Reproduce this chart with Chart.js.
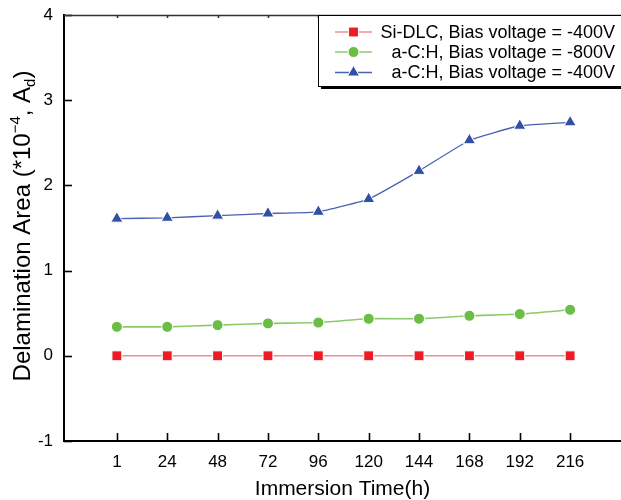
<!DOCTYPE html>
<html>
<head>
<meta charset="utf-8">
<script src="https://cdn.jsdelivr.net/npm/chart.js@4/dist/chart.umd.min.js"></script>
<style>
  html, body { margin: 0; padding: 0; background: #fff; }
  #wrap { width: 621px; height: 500px; }
</style>
</head>
<body>
<div id="wrap"><canvas id="chart"></canvas></div>
<script>
const hours = ['1', '24', '48', '72', '96', '120', '144', '168', '192', '216'];
const siDlc400 = [0, 0, 0, 0, 0, 0, 0, 0, 0, 0];
const aCH800 = [0.34, 0.34, 0.36, 0.38, 0.39, 0.435, 0.435, 0.47, 0.49, 0.54];
const aCH400 = [1.61, 1.62, 1.645, 1.67, 1.69, 1.84, 2.17, 2.53, 2.70, 2.74];
const seriesNames = [
  'Si-DLC, Bias voltage = -400V',
  'a-C:H, Bias voltage = -800V',
  'a-C:H, Bias voltage = -400V'
];
const yTicks = [-1, 0, 1, 2, 3, 4];

const FONT = "'Liberation Sans', Arial, sans-serif";

function toPoints(values) {
  return values.map((v, i) => ({ x: i + 1, y: v }));
}

// inward tick marks, top frame line, y title with sup/sub, boxed legend
const framePlugin = {
  id: 'frame',
  afterDraw(chart) {
    const { ctx, chartArea: area, scales: { x, y } } = chart;
    ctx.save();

    ctx.strokeStyle = '#000';
    ctx.lineWidth = 1.6;
    x.ticks.forEach((t) => {
      const px = Math.round(x.getPixelForValue(t.value)) + 0.5;
      ctx.beginPath();
      ctx.moveTo(px, area.bottom);
      ctx.lineTo(px, area.bottom - 8);
      ctx.stroke();
    });
    y.ticks.forEach((t) => {
      const py = Math.round(y.getPixelForValue(t.value)) + 0.5;
      ctx.beginPath();
      ctx.moveTo(area.left, py);
      ctx.lineTo(area.left + 8, py);
      ctx.stroke();
    });

    // top axis line with short ticks
    ctx.strokeStyle = '#333';
    ctx.lineWidth = 1.6;
    ctx.beginPath();
    ctx.moveTo(area.left, area.top + 0.5);
    ctx.lineTo(area.right, area.top + 0.5);
    ctx.stroke();
    x.ticks.forEach((t) => {
      const px = Math.round(x.getPixelForValue(t.value)) + 0.5;
      ctx.beginPath();
      ctx.moveTo(px, area.top);
      ctx.lineTo(px, area.top + 3);
      ctx.stroke();
    });

    // y axis title
    ctx.fillStyle = '#000';
    ctx.textBaseline = 'alphabetic';
    ctx.textAlign = 'left';
    const big = `24px ${FONT}`;
    const small = `15px ${FONT}`;
    const parts = [
      { t: 'Delamination Area (*10', f: big, dy: 0 },
      { t: '\u22124', f: small, dy: -10 },
      { t: ', A', f: big, dy: 0 },
      { t: 'd', f: small, dy: 5 },
      { t: ')', f: big, dy: 0 }
    ];
    let total = 0;
    parts.forEach((p) => { ctx.font = p.f; p.w = ctx.measureText(p.t).width; total += p.w; });
    ctx.translate(29.5, (area.top + area.bottom) / 2 - 2);
    ctx.rotate(-Math.PI / 2);
    let cx = -total / 2;
    parts.forEach((p) => {
      ctx.font = p.f;
      ctx.fillText(p.t, cx, p.dy);
      cx += p.w;
    });
    ctx.setTransform(1, 0, 0, 1, 0, 0);

    // legend box
    const bx = 318, by = area.top, bw = 340, bh = 71;
    ctx.fillStyle = '#000';
    ctx.fillRect(bx + 3, by + 3, bw, bh);
    ctx.fillStyle = '#fff';
    ctx.fillRect(bx, by, bw, bh);
    ctx.strokeStyle = '#000';
    ctx.lineWidth = 1;
    ctx.strokeRect(bx + 0.5, by + 0.5, bw, bh);

    const rowY = [by + 17, by + 37, by + 57.5];
    chart.data.datasets.forEach((ds, i) => {
      const ry = rowY[i];
      ctx.strokeStyle = ds.borderColor;
      ctx.lineWidth = ds.borderWidth;
      ctx.beginPath();
      ctx.moveTo(335, ry);
      ctx.lineTo(372, ry);
      ctx.stroke();
      ctx.fillStyle = ds.pointBackgroundColor;
      ctx.strokeStyle = '#fff';
      ctx.lineWidth = 1;
      Chart.helpers.drawPoint(ctx, {
        pointStyle: ds.pointStyle,
        radius: ds.pointRadius,
        rotation: 0,
        borderWidth: 1
      }, 353.5, ry);
      ctx.fillStyle = '#000';
      ctx.font = `18px ${FONT}`;
      ctx.textAlign = 'right';
      ctx.textBaseline = 'middle';
      ctx.fillText(ds.label, 615, ry + 1);
    });

    ctx.restore();
  }
};

new Chart(document.getElementById('chart'), {
  type: 'line',
  data: {
    datasets: [
      {
        label: seriesNames[0],
        data: toPoints(siDlc400),
        borderColor: '#f28d8d',
        borderWidth: 1.6,
        pointStyle: 'rect',
        pointRadius: 7,
        pointBackgroundColor: '#ed1c24',
        pointBorderColor: '#fff',
        pointBorderWidth: 1,
        tension: 0
      },
      {
        label: seriesNames[1],
        data: toPoints(aCH800),
        borderColor: '#8ccb6b',
        borderWidth: 1.6,
        pointStyle: 'circle',
        pointRadius: 5.5,
        pointBackgroundColor: '#6abd45',
        pointBorderColor: '#fff',
        pointBorderWidth: 1,
        tension: 0.15
      },
      {
        label: seriesNames[2],
        data: toPoints(aCH400),
        borderColor: '#4a62b2',
        borderWidth: 1.3,
        pointStyle: 'triangle',
        pointRadius: 7,
        pointBackgroundColor: '#3050a3',
        pointBorderColor: '#fff',
        pointBorderWidth: 1,
        tension: 0.1
      }
    ]
  },
  options: {
    responsive: true,
    maintainAspectRatio: false,
    animation: false,
    layout: { autoPadding: false, padding: { left: 0, top: 15, right: 0, bottom: 0 } },
    plugins: {
      legend: { display: false },
      tooltip: { enabled: false }
    },
    scales: {
      x: {
        type: 'linear',
        min: -0.05,
        max: 11.01,
        afterBuildTicks: (scale) => { scale.ticks = hours.map((_, i) => ({ value: i + 1 })); },
        afterFit: (scale) => {
          scale.height = 59;
          scale.paddingLeft = 0;
          scale.paddingRight = 0;
        },
        grid: { display: false, drawTicks: false },
        border: { color: '#000', width: 2 },
        ticks: {
          color: '#000',
          padding: 11,
          maxRotation: 0,
          autoSkip: false,
          font: { family: FONT, size: 17 },
          callback: (value) => hours[value - 1]
        },
        title: {
          display: true,
          text: 'Immersion Time(h)',
          color: '#000',
          padding: { top: 0, bottom: -2 },
          font: { family: FONT, size: 21 }
        }
      },
      y: {
        min: -1,
        max: 4,
        afterBuildTicks: (scale) => { scale.ticks = yTicks.map((v) => ({ value: v })); },
        afterFit: (scale) => {
          scale.width = 64;
          scale.paddingTop = 0;
          scale.paddingBottom = 0;
        },
        grid: { display: false, drawTicks: false },
        border: { color: '#000', width: 2 },
        ticks: {
          color: '#000',
          padding: 11,
          font: { family: FONT, size: 17 }
        }
      }
    }
  },
  plugins: [framePlugin]
});
</script>
</body>
</html>
